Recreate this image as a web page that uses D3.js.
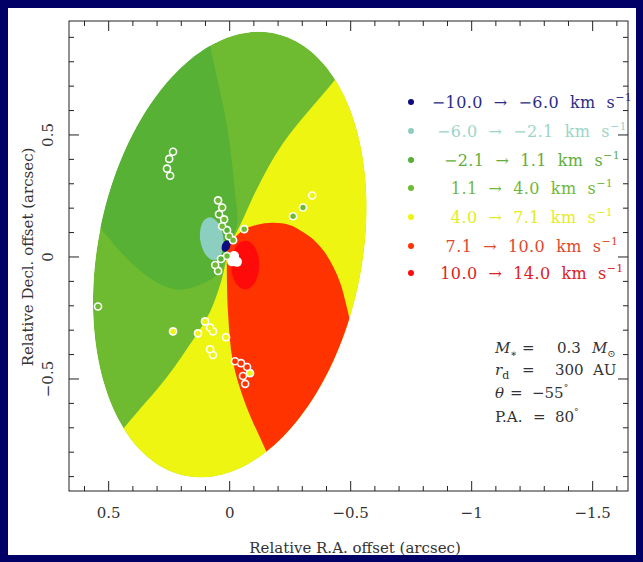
<!DOCTYPE html>
<html>
<head>
<meta charset="utf-8">
<style>
  body { margin: 0; background: #000066; }
  text { font-family: "DejaVu Serif", "Liberation Serif", serif; white-space: pre; }
</style>
</head>
<body>
<script src="https://cdn.jsdelivr.net/npm/d3@7/dist/d3.min.js"></script>
<script>
var W = 643, H = 562;

// velocity bins (km/s) and their colours
var binLo = ["\u221210.0", "\u22126.0", "\u22122.1", "1.1", "4.0", "7.1", "10.0"];
var binHi = ["\u22126.0", "\u22122.1", "1.1", "4.0", "7.1", "10.0", "14.0"];
var binColor = ["#0c0c80", "#8ccfc0", "#56b134", "#6ebb32", "#eef510", "#ff3300", "#ff0a0a"];
var binText  = ["#2c2c86", "#9ad6c8", "#5fae3c", "#6fb83a", "#e4ec20", "#e0482c", "#e02020"];

// axis ticks
var xTicks = [0.5, 0, -0.5, -1, -1.5];
var xTickLabels = ["0.5", "0", "\u22120.5", "\u22121", "\u22121.5"];
var yTicks = [0.5, 0, -0.5];
var yTickLabels = ["0.5", "0", "\u22120.5"];

// projected disk (arcsec): centre, semi-axes, tilt of major axis (deg, N through E)
var diskX = 0.0, diskY = 0.01, diskA = 0.925, diskB = 0.545, diskTilt = -11.5;

// iso-velocity boundaries, from the centre outward past the rim (arcsec)
var bndA = [[0.015, 0.04], [-0.030, 0.130], [-0.022, 0.264], [0.011, 0.537], [0.081, 0.870], [0.11, 1.05]];
var bndB = [[0.0, 0.05], [-0.043, 0.130], [-0.113, 0.280], [-0.221, 0.467], [-0.423, 0.711], [-0.55, 0.86]];
var bndC = [[0.012, 0.0], [0.031, -0.085], [0.081, -0.224], [0.164, -0.358], [0.259, -0.492], [0.432, -0.695], [0.535, -0.825], [0.60, -0.906]];
var bndD = [[0.027, -0.033], [0.052, -0.073], [0.122, -0.114], [0.217, -0.134], [0.300, -0.105], [0.383, -0.045], [0.450, 0.020], [0.510, 0.090], [0.60, 0.200]];
// 7.1 km/s contour: upper part and left part of the red lobe
var redTop = [[0.007, 0.049], [-0.055, 0.110], [-0.113, 0.132], [-0.180, 0.140], [-0.250, 0.130], [-0.303, 0.102],
  [-0.350, 0.068], [-0.392, 0.020], [-0.428, -0.040], [-0.458, -0.110], [-0.480, -0.190], [-0.500, -0.280], [-0.52, -0.42]];
var redLeft = [[0.012, -0.020], [0.007, -0.224], [-0.013, -0.427], [-0.065, -0.602], [-0.155, -0.805], [-0.208, -0.927]];

// inner blobs: centre x, y, radius x, radius y, rotation, bin
var blobX = [0.074, -0.064, 0.015];
var blobY = [0.075, -0.033, 0.045];
var blobRx = [0.048, 0.058, 0.017];
var blobRy = [0.088, 0.100, 0.025];
var blobRot = [-8, 0, 25];
var blobBin = [1, 6, 0];

// maser spots (arcsec) and their velocity bin
var spotX = [0.048, 0.031, 0.044, 0.023, 0.031, 0.011, 0.002, -0.014,
  0.060, 0.036, 0.048, 0.011,
  -0.060, -0.262, -0.303, -0.341, 0.544, 0.234, 0.015,
  0.234, 0.250, 0.259, 0.246,
  0.102, 0.081, 0.131, 0.069, 0.081, 0.069,
  -0.022, -0.047, -0.072, -0.084, -0.055, -0.064];
var spotY = [0.232, 0.203, 0.175, 0.154, 0.126, 0.110, 0.085, 0.069,
  -0.033, -0.008, -0.057, 0.004,
  0.114, 0.167, 0.203, 0.252, -0.203, -0.305, -0.329,
  0.431, 0.402, 0.362, 0.333,
  -0.264, -0.289, -0.313, -0.305, -0.378, -0.402,
  -0.427, -0.435, -0.451, -0.476, -0.488, -0.520];
var spotBin = [3, 3, 2, 3, 3, 2, 3, 3,
  3, 2, 3, 3,
  3, 3, 3, 4, 3, 4, 4,
  2, 2, 2, 2,
  4, 4, 4, 4, 4, 4,
  5, 5, 5, 4, 5, 5];
// white (blanked) spots near the centre
var whiteX = [-0.018, -0.030, -0.010];
var whiteY = [0.004, -0.020, -0.018];

var svg = d3.select("body").append("svg")
  .attr("width", W).attr("height", H);

svg.append("rect").attr("width", W).attr("height", H).attr("fill", "#000066");
svg.append("rect").attr("x", 8).attr("y", 8).attr("width", 628).attr("height", 547).attr("fill", "#fff");

var pL = 69, pR = 628, pT = 21, pB = 491;
var x = d3.scaleLinear().domain([0.664, -1.646]).range([pL, pR]);
var y = d3.scaleLinear().domain([-0.959, 0.967]).range([pB, pT]);

var line = d3.line().x(function(d) { return x(d[0]); }).y(function(d) { return y(d[1]); });
var smooth = d3.line().x(function(d) { return x(d[0]); }).y(function(d) { return y(d[1]); })
  .curve(d3.curveCatmullRom.alpha(0.5));

// region path: smooth boundary out, straight corners outside the disk, smooth boundary back
function region(outward, corners, back) {
  var p = smooth(outward);
  corners.forEach(function(c) { p += "L" + x(c[0]) + "," + y(c[1]); });
  p += smooth(back.slice().reverse()).replace(/^M/, "L");
  return p + "Z";
}

// ellipse outline in data coordinates
var tr = diskTilt * Math.PI / 180;
var dx = Math.sin(tr), dy = Math.cos(tr), nx = Math.cos(tr), ny = -Math.sin(tr);
var rim = d3.range(0, 360, 2).map(function(t) {
  var a = t * Math.PI / 180;
  return [diskX + diskA * Math.cos(a) * dx + diskB * Math.sin(a) * nx,
          diskY + diskA * Math.cos(a) * dy + diskB * Math.sin(a) * ny];
});

svg.append("clipPath").attr("id", "disk").append("path").attr("d", line(rim) + "Z");

var g = svg.append("g").attr("clip-path", "url(#disk)");
var xl = x.domain()[0] + 0.3, xr = x.domain()[1], yt = y.domain()[1] + 0.3, yb = y.domain()[0] - 0.3;

g.append("path").attr("d", line(rim) + "Z").attr("fill", binColor[3]);

// dark green sector
g.append("path").attr("d", region(bndA, [[xl, yt], [xl, 0.3]], bndD)).attr("fill", binColor[2]);

// yellow sectors
g.append("path").attr("d", region(bndB, [[xr, yt], [xr, yb], [xl, yb]], bndC)).attr("fill", binColor[4]);

// red sector
g.append("path").attr("d", region(redTop, [[-0.80, -0.60], [-0.45, -1.10]], redLeft)).attr("fill", binColor[5]);

// inner blobs
blobX.forEach(function(bx, i) {
  g.append("ellipse")
    .attr("cx", x(bx)).attr("cy", y(blobY[i]))
    .attr("rx", Math.abs(x(blobRx[i]) - x(0))).attr("ry", Math.abs(y(blobRy[i]) - y(0)))
    .attr("transform", "rotate(" + blobRot[i] + "," + x(bx) + "," + y(blobY[i]) + ")")
    .attr("fill", binColor[blobBin[i]]);
});

// spots: white outlines, then coloured cores
var spots = spotX.map(function(v, i) { return {x: v, y: spotY[i], b: spotBin[i]}; });
g.selectAll(".ring").data(spots).enter().append("circle")
  .attr("cx", function(d) { return x(d.x); }).attr("cy", function(d) { return y(d.y); })
  .attr("r", 4.3).attr("fill", "#fff");
g.selectAll(".white").data(whiteX).enter().append("circle")
  .attr("cx", function(d) { return x(d); }).attr("cy", function(d, i) { return y(whiteY[i]); })
  .attr("r", 5).attr("fill", "#fff");
g.selectAll(".core").data(spots).enter().append("circle")
  .attr("cx", function(d) { return x(d.x); }).attr("cy", function(d) { return y(d.y); })
  .attr("r", 2.7).attr("fill", function(d) { return binColor[d.b]; });

// frame and ticks
svg.append("rect").attr("x", pL).attr("y", pT).attr("width", pR - pL).attr("height", pB - pT)
  .attr("fill", "none").attr("stroke", "#222").attr("stroke-width", 1);

var minorX = d3.range(-16, 7).map(function(k) { return k / 10; });
var minorY = d3.range(-9, 10).map(function(k) { return k / 10; });
function isMajor(v) { return Math.abs(v * 2 - Math.round(v * 2)) < 1e-6; }

var ticks = svg.append("g").attr("stroke", "#222").attr("stroke-width", 1);
minorX.forEach(function(v) {
  var len = isMajor(v) ? 10 : 5;
  ticks.append("line").attr("x1", x(v)).attr("x2", x(v)).attr("y1", pB).attr("y2", pB - len);
  ticks.append("line").attr("x1", x(v)).attr("x2", x(v)).attr("y1", pT).attr("y2", pT + len);
});
minorY.forEach(function(v) {
  var len = isMajor(v) ? 10 : 5;
  ticks.append("line").attr("y1", y(v)).attr("y2", y(v)).attr("x1", pL).attr("x2", pL + len);
  ticks.append("line").attr("y1", y(v)).attr("y2", y(v)).attr("x1", pR).attr("x2", pR - len);
});

var labCol = "#333";
svg.selectAll(".xt").data(xTicks).enter().append("text")
  .attr("x", function(d) { return x(d); }).attr("y", 518)
  .attr("text-anchor", "middle").attr("font-size", 15).attr("fill", labCol)
  .text(function(d, i) { return xTickLabels[i]; });
svg.selectAll(".yt").data(yTicks).enter().append("text")
  .attr("transform", function(d) { return "translate(53," + y(d) + ") rotate(-90)"; })
  .attr("text-anchor", "middle").attr("font-size", 15).attr("fill", labCol)
  .text(function(d, i) { return yTickLabels[i]; });

svg.append("text").attr("x", 355).attr("y", 553).attr("text-anchor", "middle")
  .attr("font-size", 15).attr("fill", labCol).text("Relative R.A. offset (arcsec)");
svg.append("text").attr("transform", "translate(33," + y(0) + ") rotate(-90)").attr("text-anchor", "middle")
  .attr("font-size", 15).attr("fill", labCol).text("Relative Decl. offset (arcsec)");

// legend
var legY = [102, 131, 160, 188, 217, 246, 273];
binLo.forEach(function(lo, i) {
  svg.append("circle").attr("cx", 411).attr("cy", legY[i]).attr("r", 3).attr("fill", binColor[i]);
  var t = svg.append("text").attr("x", 532).attr("y", legY[i] + 6).attr("text-anchor", "middle")
    .attr("font-size", 16).attr("letter-spacing", 0.4).attr("fill", binText[i]);
  t.append("tspan").text(lo + "  \u2192  " + binHi[i] + "  km  s");
  t.append("tspan").attr("dy", -7).attr("font-size", 11).text("\u22121");
});

// model parameters
var par = svg.append("g").attr("font-size", 15).attr("fill", "#333");
var r1 = par.append("text").attr("y", 353);
r1.append("tspan").attr("x", 495).attr("font-style", "italic").text("M");
r1.append("tspan").attr("dy", 4).attr("font-size", 10).text("\u2217");
r1.append("tspan").attr("x", 522).attr("dy", -4).text("=");
r1.append("tspan").attr("x", 557).text("0.3");
r1.append("tspan").attr("x", 592).attr("font-style", "italic").text("M");
r1.append("tspan").attr("dy", 4).attr("font-size", 10).text("\u2299");
var r2 = par.append("text").attr("y", 375);
r2.append("tspan").attr("x", 495).attr("font-style", "italic").text("r");
r2.append("tspan").attr("dy", 4).attr("font-size", 11).text("d");
r2.append("tspan").attr("x", 522).attr("dy", -4).text("=");
r2.append("tspan").attr("x", 555).text("300");
r2.append("tspan").attr("x", 593).text("AU");
var r3 = par.append("text").attr("y", 398);
r3.append("tspan").attr("x", 495).attr("font-style", "italic").text("\u03b8");
r3.append("tspan").attr("x", 510).text("=");
r3.append("tspan").attr("x", 532).text("\u221255");
r3.append("tspan").attr("dy", -7).attr("font-size", 9).text("\u00b0");
var r4 = par.append("text").attr("y", 422);
r4.append("tspan").attr("x", 495).text("P.A.");
r4.append("tspan").attr("x", 533).text("=");
r4.append("tspan").attr("x", 555).text("80");
r4.append("tspan").attr("dy", -7).attr("font-size", 9).text("\u00b0");
</script>
</body>
</html>
